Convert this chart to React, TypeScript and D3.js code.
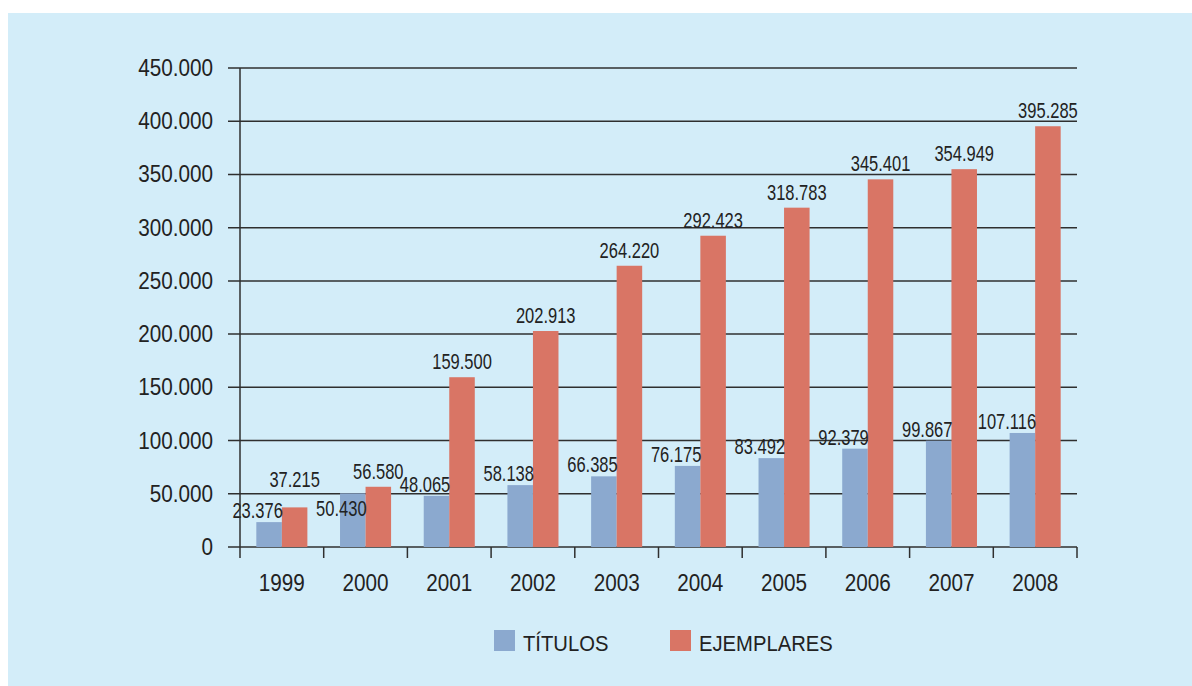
import React, { useEffect, useRef } from "react";
import * as d3 from "d3";

const years = ["1999", "2000", "2001", "2002", "2003", "2004", "2005", "2006", "2007", "2008"];
const titulos = [23376, 50430, 48065, 58138, 66385, 76175, 83492, 92379, 99867, 107116];
const ejemplares = [37215, 56580, 159500, 202913, 264220, 292423, 318783, 345401, 354949, 395285];
const yTicks = [0, 50000, 100000, 150000, 200000, 250000, 300000, 350000, 400000, 450000];
const seriesNames = ["TÍTULOS", "EJEMPLARES"];

// label nudges where the original chart moved labels apart (layout only)
const blueNudgeY: Record<string, number> = { "2000": 27 };
const redNudgeY: Record<string, number> = { "1999": -12 };

const fmt = (v: number) => d3.format(",")(v).replace(/,/g, ".");

const App = () => {
  const ref = useRef<SVGSVGElement>(null);

  useEffect(() => {
    const width = 1192;
    const height = 686;
    const margin = { top: 68, left: 240, bottom: 139, right: 115 };
    const iwidth = width - margin.left - margin.right;
    const iheight = height - margin.top - margin.bottom;
    const blue = "#8ba9cf";
    const red = "#d97565";
    const axisColor = "#2f2f2f";
    const textColor = "#222";
    const font = "'Liberation Sans', Arial, sans-serif";

    const svg = d3.select(ref.current);
    svg.selectAll("*").remove();
    svg.attr("width", width).attr("height", height);

    svg
      .append("rect")
      .attr("x", 8)
      .attr("y", 13)
      .attr("width", width - 8)
      .attr("height", height - 13)
      .attr("fill", "#d3edf9");

    const g = svg.append("g").attr("transform", `translate(${margin.left},${margin.top})`);

    // squeezed text to imitate the narrow original face
    const label = (parent: any, x: number, y: number, txt: string, size: number, sx: number, anchor: string) =>
      parent
        .append("text")
        .attr("transform", `translate(${x},${y}) scale(${sx},1)`)
        .attr("text-anchor", anchor)
        .attr("font-family", font)
        .attr("font-size", size)
        .attr("fill", textColor)
        .text(txt);

    const y = d3.scaleLinear().domain([0, 450000]).range([iheight, 0]);
    const x = d3.scaleBand().domain(years).range([0, iwidth]).padding(0);
    const pairW = x.bandwidth() * 0.61;
    const sub = d3
      .scaleBand()
      .domain(seriesNames)
      .range([(x.bandwidth() - pairW) / 2, (x.bandwidth() + pairW) / 2]);

    // gridlines + y ticks
    g.selectAll("line.grid")
      .data(yTicks)
      .enter()
      .append("line")
      .attr("x1", -12)
      .attr("x2", iwidth)
      .attr("y1", (d) => y(d))
      .attr("y2", (d) => y(d))
      .attr("stroke", axisColor)
      .attr("stroke-width", 1.5);

    yTicks.forEach((d) => label(g, -27, y(d) + 8, fmt(d), 23, 0.9, "end"));

    // bars
    years.forEach((yr, i) => {
      const x0 = x(yr)!;
      g.append("rect")
        .attr("x", x0 + sub("TÍTULOS")!)
        .attr("width", sub.bandwidth())
        .attr("y", y(titulos[i]))
        .attr("height", iheight - y(titulos[i]))
        .attr("fill", blue);
      g.append("rect")
        .attr("x", x0 + sub("EJEMPLARES")!)
        .attr("width", sub.bandwidth())
        .attr("y", y(ejemplares[i]))
        .attr("height", iheight - y(ejemplares[i]))
        .attr("fill", red);
    });

    // value labels
    years.forEach((yr, i) => {
      const x0 = x(yr)!;
      label(
        g,
        x0 + sub("TÍTULOS")! + sub.bandwidth() + 1,
        y(titulos[i]) - 4 + (blueNudgeY[yr] || 0),
        fmt(titulos[i]),
        22,
        0.75,
        "end"
      );
      label(
        g,
        x0 + sub("EJEMPLARES")! + sub.bandwidth() / 2,
        y(ejemplares[i]) - 8 + (redNudgeY[yr] || 0),
        fmt(ejemplares[i]),
        22,
        0.75,
        "middle"
      );
    });

    // axes
    g.append("line")
      .attr("x1", 0)
      .attr("x2", 0)
      .attr("y1", 0)
      .attr("y2", iheight + 11)
      .attr("stroke", axisColor)
      .attr("stroke-width", 1.5);

    years.forEach((yr) => {
      const xe = x(yr)! + x.bandwidth();
      g.append("line")
        .attr("x1", xe)
        .attr("x2", xe)
        .attr("y1", iheight)
        .attr("y2", iheight + 11)
        .attr("stroke", axisColor)
        .attr("stroke-width", 1.5);
      label(g, x(yr)! + x.bandwidth() / 2, iheight + 44, yr, 23, 0.9, "middle");
    });

    // legend
    const legend = svg.append("g").attr("transform", "translate(494,630)");
    const legendX = [0, 176];
    const colors = [blue, red];
    seriesNames.forEach((name, i) => {
      legend
        .append("rect")
        .attr("x", legendX[i])
        .attr("y", 0)
        .attr("width", 21)
        .attr("height", 21)
        .attr("fill", colors[i]);
      label(legend, legendX[i] + 29, 21, name, 22, 0.92, "start");
    });
  }, []);

  return (
    <div style={{ position: "absolute", left: 0, top: 0 }}>
      <svg ref={ref} style={{ display: "block" }}></svg>
    </div>
  );
};

export default App;
